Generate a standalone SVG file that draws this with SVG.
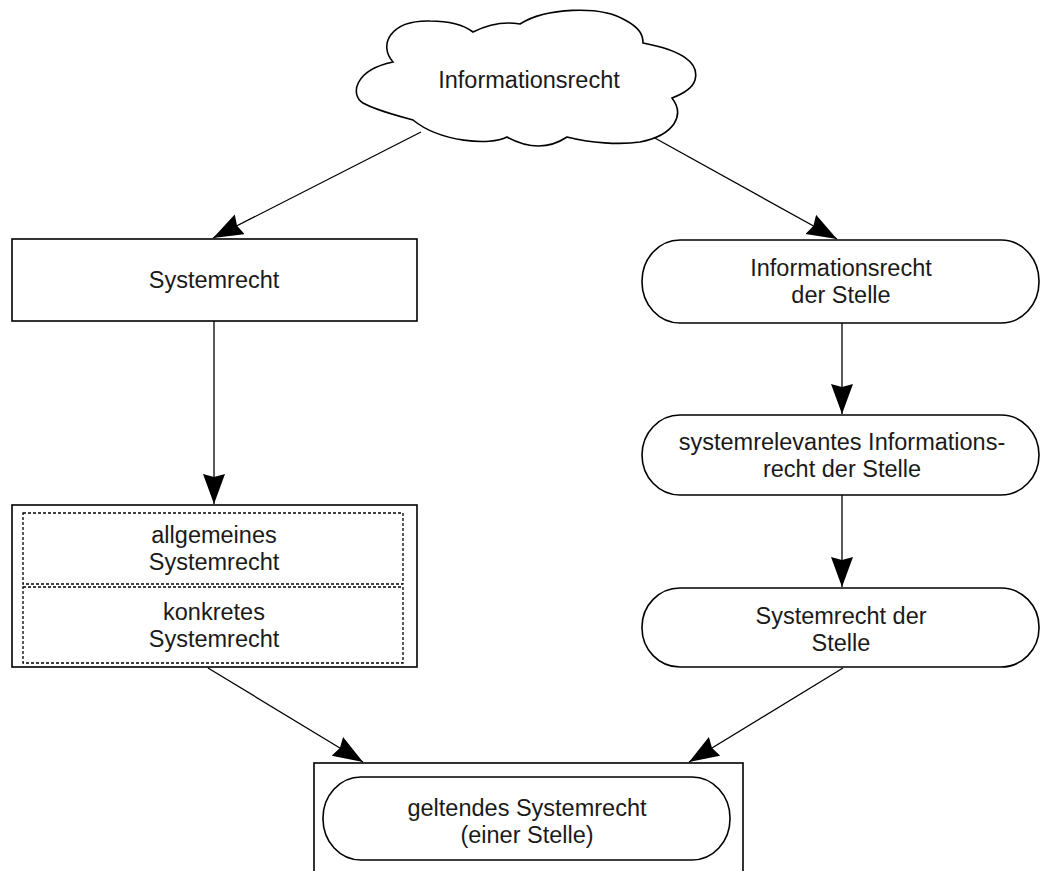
<svg xmlns="http://www.w3.org/2000/svg" width="1042" height="871" viewBox="0 0 1042 871">
  <style>
    .shape { fill: #ffffff; stroke: #000000; stroke-width: 1.6; }
    .dash { fill: none; stroke: #000000; stroke-width: 1.3; stroke-dasharray: 3 2; }
    .label { font-family: "Liberation Sans", Arial, sans-serif; font-size: 23.5px; fill: #1a1a1a; text-anchor: middle; }
    .edge { fill: none; stroke: #000000; stroke-width: 1.3; }
  </style>
  <defs>
    <marker id="arrow" markerUnits="userSpaceOnUse" markerWidth="32" markerHeight="24" refX="30" refY="11" orient="auto">
      <path d="M0,0 L30,11 L0,22 L3,11 Z" fill="#000000"/>
    </marker>
  </defs>
  <rect width="1042" height="871" fill="#ffffff"/>

  <g id="connectors">
    <line class="edge" x1="421" y1="132" x2="213" y2="238" marker-end="url(#arrow)"/>
    <line class="edge" x1="653" y1="137" x2="837" y2="239" marker-end="url(#arrow)"/>
    <line class="edge" x1="214" y1="321" x2="214" y2="504" marker-end="url(#arrow)"/>
    <line class="edge" x1="842" y1="323" x2="842" y2="414" marker-end="url(#arrow)"/>
    <line class="edge" x1="842" y1="495" x2="842" y2="587" marker-end="url(#arrow)"/>
    <line class="edge" x1="208" y1="668" x2="363" y2="762" marker-end="url(#arrow)"/>
    <line class="edge" x1="843" y1="668" x2="689" y2="762" marker-end="url(#arrow)"/>
  </g>

  <g id="informationsrecht">
    <path class="shape" d="M363,103 C350,95 354,70 393,62 C378,45 390,20 430,21 C450,21 465,26 473,32 Q497,20 520,24 C545,8 600,5 625,20 C640,28 643,35 643,43 C680,50 700,62 695,80 C692,90 680,95 672,98 C685,115 675,135 640,142 C620,145 590,143 567,137 Q540,155 507,137 C490,146 440,142 413,120 C395,115 375,110 363,103 Z"/>
    <text class="label" x="529" y="88">Informationsrecht</text>
  </g>

  <g id="systemrecht">
    <rect class="shape" x="12" y="239" width="405" height="82"/>
    <text class="label" x="214" y="288">Systemrecht</text>
  </g>

  <g id="systemrecht-teile">
    <rect class="shape" x="12" y="505" width="405" height="162"/>
    <rect class="dash" x="23" y="513" width="380" height="71"/>
    <rect class="dash" x="23" y="587" width="380" height="76"/>
    <text class="label" x="214" y="543">allgemeines</text>
    <text class="label" x="214" y="570">Systemrecht</text>
    <text class="label" x="214" y="620">konkretes</text>
    <text class="label" x="214" y="647">Systemrecht</text>
  </g>

  <g id="informationsrecht-stelle">
    <rect class="shape" x="642" y="240" width="397" height="83" rx="38" ry="41"/>
    <text class="label" x="841" y="276">Informationsrecht</text>
    <text class="label" x="841" y="303">der Stelle</text>
  </g>

  <g id="systemrelevantes-informationsrecht">
    <rect class="shape" x="642" y="415" width="397" height="80" rx="38" ry="40"/>
    <text class="label" x="842" y="450">systemrelevantes Informations-</text>
    <text class="label" x="842" y="477">recht der Stelle</text>
  </g>

  <g id="systemrecht-stelle">
    <rect class="shape" x="642" y="588" width="397" height="79" rx="38" ry="39"/>
    <text class="label" x="841" y="624">Systemrecht der</text>
    <text class="label" x="841" y="651">Stelle</text>
  </g>

  <g id="geltendes-systemrecht">
    <rect class="shape" x="314" y="763" width="429" height="115"/>
    <rect class="shape" x="323" y="777" width="407" height="83" rx="38" ry="41"/>
    <text class="label" x="527" y="816">geltendes Systemrecht</text>
    <text class="label" x="527" y="843">(einer Stelle)</text>
  </g>
</svg>
